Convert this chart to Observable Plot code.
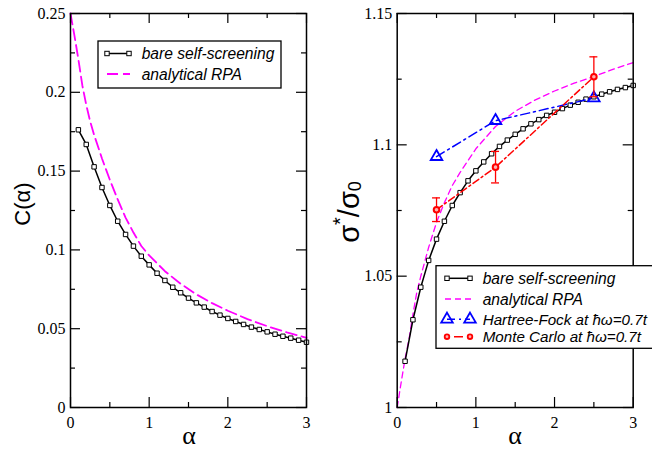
<!DOCTYPE html>
<html><head><meta charset="utf-8">
<script src="https://cdn.jsdelivr.net/npm/d3@7"></script>
<script src="https://cdn.jsdelivr.net/npm/@observablehq/plot@0.6"></script>
<style>
body{margin:0;background:#fff;}
#wrap{position:relative;width:652px;height:450px;overflow:hidden;background:#fff;}
#wrap svg{position:absolute;top:0;}
</style></head><body><div id="wrap"></div>
<script>
// ---------- data ----------
const alphaBare = [0.1,0.2,0.3,0.4,0.5,0.6,0.7,0.8,0.9,1.0,1.1,1.2,1.3,1.4,1.5,1.6,1.7,1.8,1.9,2.0,2.1,2.2,2.3,2.4,2.5,2.6,2.7,2.8,2.9,3.0];
const cBare = [0.1762,0.1669,0.1527,0.1396,0.1282,0.1182,0.1098,0.1024,0.0960,0.0905,0.0852,0.0806,0.0763,0.0728,0.0694,0.0664,0.0637,0.0609,0.0586,0.0565,0.0546,0.0527,0.0510,0.0495,0.0480,0.0465,0.0452,0.0440,0.0427,0.0414];
const alphaRpaL = [0,0.05,0.1,0.15,0.2,0.25,0.3,0.4,0.5,0.6,0.7,0.8,0.9,1.0,1.2,1.4,1.6,1.8,2.0,2.25,2.5,2.75,3.0];
const cRpa = [0.25,0.236,0.221,0.2045,0.192,0.1815,0.173,0.158,0.1445,0.132,0.1205,0.111,0.1025,0.0965,0.0865,0.0785,0.0718,0.0662,0.0614,0.0561,0.0516,0.0477,0.0442];
const sigmaBare = [1.0176,1.0334,1.0458,1.0560,1.0641,1.0709,1.0769,1.0818,1.0863,1.0901,1.0935,1.0966,1.0994,1.1018,1.1040,1.1061,1.1080,1.1096,1.1112,1.1124,1.1138,1.1151,1.1162,1.1174,1.1183,1.1193,1.1202,1.1211,1.1218,1.1226];
const alphaRpaR = [0,0.05,0.1,0.15,0.2,0.25,0.3,0.4,0.5,0.6,0.7,0.8,0.9,1.0,1.25,1.5,1.75,2.0,2.25,2.5,2.75,3.0];
const sigmaRpa = [1,1.0095,1.0185,1.026,1.0355,1.044,1.050,1.061,1.0705,1.078,1.0845,1.0895,1.094,1.0985,1.107,1.1128,1.117,1.1205,1.1235,1.126,1.1288,1.1313];
const alphaHF = [0.5,1.25,2.5];
const sigmaHF = [1.0955,1.1092,1.1178];
const alphaMC = [0.5,1.25,2.5];
const sigmaMC = [1.0753,1.0915,1.1259];
const errMC = [0.0045,0.006,0.0076];
const xMajor = [0,1,2,3];
const xMinor = [0.5,1.5,2.5];
const yMajorL = [0,0.05,0.1,0.15,0.2,0.25];
const yMinorL = [0.025,0.075,0.125,0.175,0.225];
const yLabelsL = ["0","0.05","0.1","0.15","0.2","0.25"];
const yMajorR = [1,1.05,1.1,1.15];
const yMinorR = [1.025,1.075,1.125];
const yLabelsR = ["1","1.05","1.1","1.15"];
const legendL = ["bare self-screening","analytical RPA"];
const legendR = ["bare self-screening","analytical RPA","Hartree-Fock at \u0127\u03C9=0.7t","Monte Carlo at \u0127\u03C9=0.7t"];

// ---------- tables ----------
const bareL = alphaBare.map((a,i)=>({a, v:cBare[i]}));
const rpaL = alphaRpaL.map((a,i)=>({a, v:cRpa[i]}));
const bareR = alphaBare.map((a,i)=>({a, v:sigmaBare[i]}));
const rpaR = alphaRpaR.map((a,i)=>({a, v:sigmaRpa[i]}));
const hf = alphaHF.map((a,i)=>({a, v:sigmaHF[i]}));
const mc = alphaMC.map((a,i)=>({a, v:sigmaMC[i], e:errMC[i]}));

const W = 326, H = 450, MT = 13, MB = 43;
const PH = H - MT - MB;
const MAJ = 10, MIN = 5;
const serif = "'Liberation Serif', 'Times New Roman', serif";
const sans = "'Liberation Sans', Arial, sans-serif";

function tickMarks(yMaj, yMin, pw) {
  const s = {stroke:"black", strokeWidth:1.2};
  return [
    Plot.ruleX(xMajor, {x:d=>d, insetTop: PH-MAJ, ...s}),
    Plot.ruleX(xMajor, {x:d=>d, insetBottom: PH-MAJ, ...s}),
    Plot.ruleX(xMinor, {x:d=>d, insetTop: PH-MIN, ...s}),
    Plot.ruleX(xMinor, {x:d=>d, insetBottom: PH-MIN, ...s}),
    Plot.ruleY(yMaj, {y:d=>d, insetRight: pw-MAJ, ...s}),
    Plot.ruleY(yMaj, {y:d=>d, insetLeft: pw-MAJ, ...s}),
    Plot.ruleY(yMin, {y:d=>d, insetRight: pw-MIN, ...s}),
    Plot.ruleY(yMin, {y:d=>d, insetLeft: pw-MIN, ...s})
  ];
}
const style = {fontFamily:serif, fontSize:"16px", color:"black", background:"transparent", overflow:"visible"};

// ---------- left panel ----------
const mlL = 70, mrL = 20;
const left = Plot.plot({
  width: W, height: H, marginLeft: mlL, marginRight: mrL, marginTop: MT, marginBottom: MB,
  style,
  x: {domain:[0,3], ticks:xMajor, tickSize:0, tickPadding:9, tickFormat:d=>String(d), label:null},
  y: {domain:[0,0.25], ticks:yMajorL, tickSize:0, tickPadding:5, tickFormat:d=>yLabelsL[yMajorL.indexOf(d)], label:null},
  marks: [
    Plot.line(rpaL, {x:"a", y:"v", stroke:"#ff00ff", strokeWidth:1.8, strokeDasharray:"11,5"}),
    Plot.line(bareL, {x:"a", y:"v", stroke:"black", strokeWidth:1.5}),
    Plot.dot(bareL, {x:"a", y:"v", symbol:"square", r:2.5, stroke:"black", fill:"white", strokeWidth:1}),
    ...tickMarks(yMajorL, yMinorL, W-mlL-mrL),
    Plot.frame({stroke:"black", strokeWidth:1.5})
  ]
});
left.style.left = "0px";

// ---------- right panel ----------
const mlR = 70.7, mrR = 19.3;
const right = Plot.plot({
  width: W, height: H, marginLeft: mlR, marginRight: mrR, marginTop: MT, marginBottom: MB,
  style,
  x: {domain:[0,3], ticks:xMajor, tickSize:0, tickPadding:9, tickFormat:d=>String(d), label:null},
  y: {domain:[1,1.15], ticks:yMajorR, tickSize:0, tickPadding:5, tickFormat:d=>yLabelsR[yMajorR.indexOf(d)], label:null},
  marks: [
    Plot.line(rpaR, {x:"a", y:"v", stroke:"#ff00ff", strokeWidth:1.3, strokeDasharray:"6,4"}),
    Plot.line(bareR, {x:"a", y:"v", stroke:"black", strokeWidth:1.5}),
    Plot.dot(bareR, {x:"a", y:"v", symbol:"square", r:2.5, stroke:"black", fill:"white", strokeWidth:1}),
    Plot.line(hf, {x:"a", y:"v", stroke:"#0000ff", strokeWidth:1.5, strokeDasharray:"9,4,2,4"}),
    Plot.dot(hf, {x:"a", y:"v", symbol:"triangle", r:4.3, stroke:"#0000ff", fill:"none", strokeWidth:1.8}),
    Plot.line(mc, {x:"a", y:"v", stroke:"#ff0000", strokeWidth:1.5, strokeDasharray:"7,3,2,3"}),
    Plot.ruleX(mc, {x:"a", y1:d=>d.v-d.e, y2:d=>d.v+d.e, stroke:"#ff0000", strokeWidth:1.3}),
    Plot.ruleY(mc, {y:d=>d.v-d.e, x1:"a", x2:"a", insetLeft:-4, insetRight:-4, stroke:"#ff0000", strokeWidth:1.3}),
    Plot.ruleY(mc, {y:d=>d.v+d.e, x1:"a", x2:"a", insetLeft:-4, insetRight:-4, stroke:"#ff0000", strokeWidth:1.3}),
    Plot.dot(mc, {x:"a", y:"v", r:2.8, stroke:"#ff0000", fill:"#ffb0b0", strokeWidth:2}),
    ...tickMarks(yMajorR, yMinorR, W-mlR-mrR),
    Plot.frame({stroke:"black", strokeWidth:1.5})
  ]
});
right.style.left = W + "px";

const wrap = document.getElementById("wrap");
wrap.appendChild(left);
wrap.appendChild(right);
[left, right].forEach(svg => {
  d3.select(svg).attr("font-family", serif).attr("font-size", 16);
  d3.select(svg).selectAll("text").style("font-family", serif).style("font-size", "16px").attr("fill","black");
});

// ---------- overlay: axis labels & legends ----------
const ov = d3.select(wrap).append("svg").attr("width",652).attr("height",450)
  .style("left","0px").style("top","0px").style("pointer-events","none");

ov.append("text").attr("transform","translate(22,204) rotate(-90)")
  .attr("text-anchor","middle").attr("dominant-baseline","central")
  .attr("font-family",sans).attr("font-size",22).text("C(\u03B1)");
const sl = ov.append("text").attr("transform","translate(349,212) rotate(-90)")
  .attr("text-anchor","middle").attr("dominant-baseline","central")
  .attr("font-family",sans).attr("font-size",29);
sl.append("tspan").text("\u03C3");
sl.append("tspan").attr("dy",-9).attr("font-size",20).text("*");
sl.append("tspan").attr("dy",9).text("/\u03C3");
sl.append("tspan").attr("dy",6).attr("font-size",18).text("0");
[189,515].forEach(x=>{
  ov.append("text").attr("x",x).attr("y",435).attr("text-anchor","middle").attr("dominant-baseline","central")
    .attr("font-family",serif).attr("font-size",26).text("\u03B1");
});

function legendText(x,y,t,fs){
  ov.append("text").attr("x",x).attr("y",y).attr("dominant-baseline","central")
    .attr("font-family",sans).attr("font-style","italic").attr("font-size",fs||15.6).text(t);
}
function sq(x,y){ ov.append("rect").attr("x",x-2.2).attr("y",y-2.2).attr("width",4.4).attr("height",4.4)
  .attr("fill","white").attr("stroke","black").attr("stroke-width",1); }
function tri(x,y){ ov.append("path").attr("d",d3.symbol(d3.symbolTriangle, 4.3*4.3*Math.PI)())
  .attr("transform",`translate(${x},${y})`).attr("fill","none").attr("stroke","#0000ff").attr("stroke-width",1.8); }
function circ(x,y){ ov.append("circle").attr("cx",x).attr("cy",y).attr("r",2.3).attr("fill","#ffb0b0")
  .attr("stroke","#ff0000").attr("stroke-width",1.8); }
function seg(x1,x2,y,c,w,dash){ ov.append("line").attr("x1",x1).attr("x2",x2).attr("y1",y).attr("y2",y)
  .attr("stroke",c).attr("stroke-width",w).attr("stroke-dasharray",dash||null); }

// left legend
ov.append("rect").attr("x",98).attr("y",41).attr("width",183).attr("height",47)
  .attr("fill","white").attr("stroke","black").attr("stroke-width",1.3);
seg(107,129,53.5,"black",1.5); sq(107,53.5); sq(129,53.5);
legendText(141.7,53.5,legendL[0]);
seg(107,130,74,"#ff00ff",2,"11,5");
legendText(141.7,74,legendL[1]);

// right legend
ov.append("rect").attr("x",436).attr("y",265.7).attr("width",240).attr("height",82.6)
  .attr("fill","white").attr("stroke","black").attr("stroke-width",1.3);
const ry = [278.3,299,319.3,336.7];
seg(447,470,ry[0],"black",1.5); sq(447,ry[0]); sq(470,ry[0]);
legendText(482.7,ry[0],legendR[0]);
seg(445,472,ry[1],"#ff00ff",1.3,"6,4");
legendText(482.7,ry[1],legendR[1]);
seg(447,470,ry[2],"#0000ff",1.5,"8,4,2,4"); tri(447,ry[2]); tri(470,ry[2]);
legendText(482.7,ry[2],legendR[2],15.2);
seg(447,470,ry[3],"#ff0000",1.5,"0,7,9,10"); circ(447,ry[3]); circ(470,ry[3]);
legendText(482.7,ry[3],legendR[3],15.2);
</script></body></html>
